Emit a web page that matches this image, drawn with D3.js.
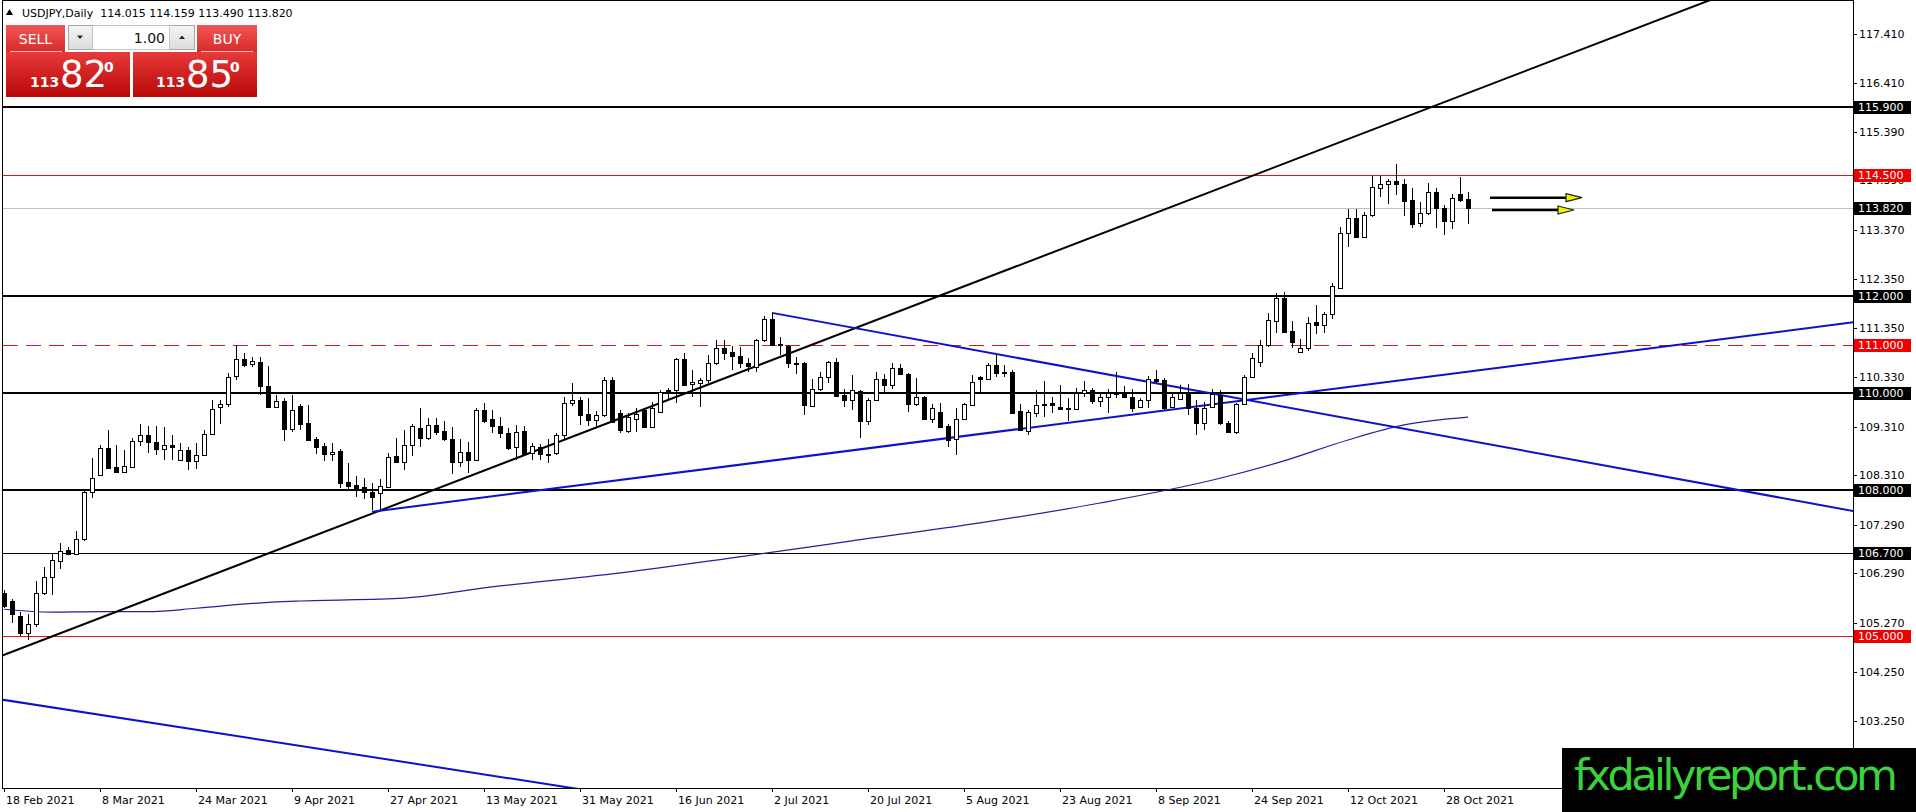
<!DOCTYPE html>
<html>
<head>
<meta charset="utf-8">
<script src="https://cdn.jsdelivr.net/npm/d3@7"></script>
<style>
  body { margin: 0; background: #fff; }
  svg { display: block; }
  text { font-family: "DejaVu Sans", sans-serif; }
</style>
</head>
<body>
<div id="chart"></div>
<script>
// ---- datos ----
const symbolTitle = "USDJPY,Daily";
const lastBar = [114.015, 114.159, 113.490, 113.820]; // O H L C

// velas diarias desde 18 Feb 2021: [open, high, low, close]
const ohlc = [
  [105.88,105.95,105.57,105.62],[105.71,105.76,105.26,105.45],[105.42,105.50,104.99,105.07],[105.07,105.45,104.92,105.25],
  [105.24,106.13,105.19,105.88],[105.88,106.43,105.85,106.21],[106.21,106.69,105.85,106.57],[106.55,106.91,106.38,106.75],
  [106.77,106.83,106.66,106.69],[106.69,107.17,106.68,106.99],[106.99,107.98,106.96,107.96],[107.96,108.66,107.84,108.25],
  [108.32,108.94,108.30,108.87],[108.88,109.25,108.44,108.47],[108.49,108.94,108.35,108.37],[108.37,108.84,108.35,108.50],
  [108.49,109.08,108.47,109.02],[109.01,109.36,108.92,109.14],[109.14,109.32,108.78,108.99],[109.00,109.33,108.73,108.85],
  [108.85,109.30,108.63,108.94],[108.94,109.14,108.62,108.89],[108.63,108.97,108.62,108.84],[108.84,108.89,108.42,108.61],
  [108.61,108.97,108.44,108.73],[108.73,109.25,108.71,109.16],[109.16,109.87,109.14,109.67],[109.72,109.87,109.37,109.78],
  [109.78,110.43,109.73,110.33],[110.35,111.00,110.27,110.70],[110.70,110.84,110.55,110.59],[110.60,110.76,110.54,110.66],
  [110.64,110.75,109.96,110.16],[110.16,110.57,109.72,109.73],[109.73,109.97,109.72,109.85],[109.85,109.90,109.01,109.26],
  [109.26,109.97,109.21,109.66],[109.74,109.78,109.25,109.37],[109.39,109.76,109.03,109.04],[109.06,109.10,108.75,108.90],
  [108.92,108.97,108.61,108.75],[108.75,108.97,108.61,108.80],[108.81,108.85,108.04,108.16],[108.17,108.56,107.98,108.10],
  [108.11,108.30,107.87,108.06],[108.08,108.25,107.82,107.96],[107.97,108.15,107.60,107.87],[107.94,108.23,107.60,108.09],
  [108.08,108.78,108.07,108.68],[108.70,109.08,108.58,108.58],[108.58,109.25,108.42,108.94],[108.93,109.36,108.71,109.33],
  [109.28,109.69,108.90,109.08],[109.08,109.49,109.04,109.35],[109.35,109.49,109.14,109.21],[109.23,109.44,109.02,109.06],
  [109.07,109.30,108.34,108.59],[108.59,109.06,108.49,108.79],[108.79,108.99,108.35,108.62],[108.62,109.69,108.60,109.66],
  [109.65,109.81,109.40,109.44],[109.47,109.66,109.18,109.33],[109.32,109.51,109.08,109.19],[109.19,109.28,108.84,108.87],
  [108.89,109.35,108.62,109.21],[109.23,109.33,108.70,108.75],[108.77,108.97,108.62,108.92],[108.90,108.96,108.63,108.75],
  [108.72,109.07,108.56,108.76],[108.77,109.19,108.73,109.14],[109.14,109.93,109.04,109.80],[109.80,110.22,109.74,109.87],
  [109.87,109.93,109.35,109.56],[109.57,109.90,109.33,109.46],[109.46,109.64,109.33,109.55],[109.55,110.33,109.52,110.27],
  [110.27,110.33,109.38,109.42],[109.59,109.66,109.19,109.24],[109.23,109.59,109.19,109.52],[109.48,109.69,109.21,109.57],
  [109.66,109.69,109.28,109.31],[109.31,109.83,109.28,109.69],[109.62,110.08,109.60,110.03],[110.07,110.12,109.86,110.01],
  [110.06,110.74,109.80,110.70],[110.70,110.84,110.15,110.17],[110.19,110.49,109.93,110.24],[110.21,110.31,109.71,110.28],
  [110.28,110.79,110.21,110.62],[110.62,111.10,110.59,110.93],[110.93,111.11,110.69,110.84],[110.86,110.98,110.48,110.77],
  [110.77,110.96,110.52,110.62],[110.63,110.72,110.45,110.56],[110.55,111.13,110.45,111.11],[111.10,111.60,111.07,111.53],
  [111.53,111.66,110.98,111.00],[110.99,111.17,110.79,111.02],[110.98,111.00,110.52,110.62],[110.62,110.76,110.40,110.63],
  [110.62,110.65,109.55,109.76],[109.74,110.29,109.73,110.10],[110.10,110.45,110.04,110.34],[110.34,110.67,110.22,110.65],
  [110.65,110.72,109.93,109.95],[109.97,110.10,109.73,109.86],[109.86,110.38,109.66,110.08],[110.04,110.07,109.09,109.44],
  [109.44,109.90,109.35,109.86],[109.86,110.45,109.85,110.29],[110.29,110.40,110.03,110.17],[110.17,110.63,110.10,110.53],
  [110.53,110.61,110.38,110.40],[110.40,110.43,109.62,109.79],[109.79,110.31,109.74,109.92],[109.92,109.95,109.45,109.48],
  [109.48,109.79,109.38,109.69],[109.62,109.81,109.28,109.31],[109.33,109.37,108.90,109.04],[109.05,109.69,108.73,109.48],
  [109.48,109.81,109.46,109.78],[109.77,110.38,109.76,110.23],[110.34,110.36,110.01,110.30],[110.30,110.63,110.29,110.58],
  [110.58,110.80,110.33,110.43],[110.45,110.58,110.33,110.44],[110.45,110.48,109.57,109.59],[109.64,109.79,109.23,109.24],
  [109.23,109.66,109.14,109.61],[109.60,110.08,109.51,109.77],[109.77,110.26,109.51,109.78],[109.80,109.92,109.59,109.77],
  [109.71,110.17,109.67,109.68],[109.69,109.90,109.44,109.68],[109.67,110.12,109.66,110.01],[110.01,110.26,109.92,110.08],
  [110.08,110.12,109.79,109.85],[109.85,110.00,109.73,109.92],[109.92,110.10,109.60,110.00],[110.00,110.45,109.90,110.01],
  [109.99,110.15,109.92,109.93],[109.93,110.10,109.62,109.69],[109.71,109.90,109.69,109.86],[109.86,110.36,109.69,110.29],
  [110.29,110.48,110.21,110.25],[110.27,110.31,109.66,109.69],[109.71,110.01,109.69,109.92],[109.88,110.17,109.86,110.00],
  [110.00,110.19,109.55,109.69],[109.69,109.86,109.14,109.38],[109.38,109.83,109.24,109.69],[109.73,110.10,109.69,109.99],
  [109.97,110.06,109.35,109.40],[109.40,109.44,109.19,109.21],[109.21,109.81,109.16,109.78],[109.78,110.38,109.76,110.33],
  [110.33,110.83,110.31,110.74],[110.65,111.10,110.54,111.00],[111.00,111.65,110.96,111.51],[111.50,112.06,111.24,111.96],
  [111.96,112.10,111.25,111.27],[111.29,111.50,110.93,111.07],[110.86,111.13,110.83,110.93],[110.93,111.58,110.88,111.46],
  [111.48,111.82,111.22,111.42],[111.42,111.68,111.25,111.64],[111.63,112.28,111.53,112.22],[112.18,113.44,112.17,113.30],
  [113.30,113.80,113.01,113.61],[113.61,113.80,113.22,113.23],[113.23,113.75,113.21,113.68],[113.68,114.48,113.64,114.25],
  [114.23,114.48,114.04,114.31],[114.31,114.43,113.90,114.37],[114.38,114.73,114.10,114.31],[114.32,114.43,113.66,113.97],
  [113.99,114.23,113.42,113.49],[113.52,113.94,113.44,113.71],[113.71,114.33,113.68,114.15],[114.15,114.23,113.40,113.82],
  [113.82,113.88,113.27,113.56],[113.56,114.12,113.39,114.02],[114.11,114.47,113.95,113.99],lastBar
];

// etiquetas del eje de tiempo: [indice de vela, texto]
const dateTicks = [
  [0, "18 Feb 2021"], [12, "8 Mar 2021"], [24, "24 Mar 2021"], [36, "9 Apr 2021"],
  [48, "27 Apr 2021"], [60, "13 May 2021"], [72, "31 May 2021"], [84, "16 Jun 2021"],
  [96, "2 Jul 2021"], [108, "20 Jul 2021"], [120, "5 Aug 2021"], [132, "23 Aug 2021"],
  [144, "8 Sep 2021"], [156, "24 Sep 2021"], [168, "12 Oct 2021"], [180, "28 Oct 2021"]
];
const priceTicks = [117.41, 116.41, 115.39, 114.39, 113.37, 112.35, 111.35, 110.33,
                    109.31, 108.31, 107.29, 106.29, 105.27, 104.25, 103.25];

// niveles horizontales
const blackLevels = [115.9, 112.0, 110.0, 108.0];
const thinBlackLevels = [106.7];
const redLevels = [114.5, 105.0];
const dashedLevels = [111.0];
const bidPrice = 113.82;

// media movil (puntos leidos cada cierto numero de velas)
const maPoints = [
  [0,105.55],[6,105.49],[12,105.50],[18,105.50],[24,105.57],[31,105.67],[37,105.72],
  [50,105.78],[61,106.01],[76,106.28],[91,106.61],[106,106.96],[122,107.33],[137,107.74],
  [152,108.25],[160,108.61],[168,109.04],[175,109.35],[183,109.51]
];

// lineas de tendencia: dos anclas [indice, precio]
const trendBlack = [[0, 104.61], [100, 110.94]];
const triangleTop = [[96, 111.66], [183, 109.03]];
const triangleBottom = [[46, 107.56], [183, 110.45]];
const channelLow = [[0, 103.68], [70, 101.89]];

// flechas amarillas: [inicio, punta] en [indice, precio]
const arrows = [
  [[185.75, 114.035], [197.25, 114.035]],
  [[186.0, 113.781], [196.25, 113.781]]
];

const sellQuote = ["113", "82", "0"];
const buyQuote = ["113", "85", "0"];
const lotSize = "1.00";

// ---- tamanos ----
const SVG_W = 1916, SVG_H = 812;
const PLOT = { left: 2.5, top: 0.5, right: 1853, bottom: 788 };
const TAG_H = 13;

const svg = d3.select("#chart").append("svg")
  .attr("width", SVG_W).attr("height", SVG_H);

const x = d3.scaleLinear().domain([0, 231]).range([4, 4 + 8 * 231]);
const y = d3.scaleLinear().domain([103.25, 117.41]).range([720.8, 34]);
const fmt = d3.format(".3f");

const defs = svg.append("defs");
defs.append("clipPath").attr("id", "plotClip").append("rect")
  .attr("x", PLOT.left).attr("y", PLOT.top)
  .attr("width", PLOT.right - PLOT.left).attr("height", PLOT.bottom - PLOT.top);

function grad(id, c0, c1) {
  const g = defs.append("linearGradient").attr("id", id)
    .attr("x1", 0).attr("y1", 0).attr("x2", 0).attr("y2", 1);
  g.append("stop").attr("offset", "0%").attr("stop-color", c0);
  g.append("stop").attr("offset", "100%").attr("stop-color", c1);
}
grad("btnRed", "#f25656", "#d92a2a");
grad("boxRed", "#e83a3a", "#b80808");
grad("spinGray", "#f4f4f4", "#dcdcdc");

const plot = svg.append("g").attr("clip-path", "url(#plotClip)");

// niveles
function hLevel(v, color, width, dash) {
  const yy = Math.round(y(v)) + (width % 2 ? 0.5 : 0);
  plot.append("line")
    .attr("x1", PLOT.left).attr("x2", PLOT.right)
    .attr("y1", yy).attr("y2", yy)
    .attr("stroke", color).attr("stroke-width", width)
    .attr("stroke-dasharray", dash || null)
    .attr("shape-rendering", "crispEdges");
}
hLevel(bidPrice, "#c0c0c0", 1);
redLevels.forEach(v => hLevel(v, "#d81818", 1));
dashedLevels.forEach(v => hLevel(v, "#d81818", 1, "15,8"));
blackLevels.forEach(v => hLevel(v, "#000", 2));
thinBlackLevels.forEach(v => hLevel(v, "#000", 1));

// media movil
plot.append("path")
  .datum(maPoints)
  .attr("fill", "none")
  .attr("stroke", "#22229c")
  .attr("stroke-width", 1.2)
  .attr("d", d3.line().x(d => x(d[0])).y(d => y(d[1])).curve(d3.curveMonotoneX));

// lineas de tendencia
function trend(pts, color, from, to) {
  const [a, b] = pts;
  const slope = (b[1] - a[1]) / (b[0] - a[0]);
  const p = i => a[1] + slope * (i - a[0]);
  plot.append("line")
    .attr("x1", x(from)).attr("y1", y(p(from)))
    .attr("x2", x(to)).attr("y2", y(p(to)))
    .attr("stroke", color).attr("stroke-width", 2);
}
trend(channelLow, "#1010cc", -5, 120);
trend(trendBlack, "#000", -5, 260);
trend(triangleTop, "#1010cc", triangleTop[0][0], 260);
trend(triangleBottom, "#1010cc", triangleBottom[0][0], 260);

// velas
const candles = plot.append("g").attr("shape-rendering", "crispEdges");
candles.selectAll("line.wick")
  .data(ohlc)
  .join("line")
  .attr("class", "wick")
  .attr("x1", (d, i) => Math.round(x(i)) + 0.5)
  .attr("x2", (d, i) => Math.round(x(i)) + 0.5)
  .attr("y1", d => y(d[1]))
  .attr("y2", d => y(d[2]))
  .attr("stroke", "#000");
candles.selectAll("rect.body")
  .data(ohlc)
  .join("rect")
  .attr("class", "body")
  .attr("x", (d, i) => Math.round(x(i)) - 1.5)
  .attr("width", 4)
  .attr("y", d => Math.round(y(Math.max(d[0], d[3]))) + 0.5)
  .attr("height", d => Math.max(1, Math.round(y(Math.min(d[0], d[3]))) - Math.round(y(Math.max(d[0], d[3])))))
  .attr("fill", d => d[3] < d[0] ? "#000" : "#fff")
  .attr("stroke", "#000");

// flechas
arrows.forEach(([s, e]) => {
  const x0 = x(s[0]), x1 = x(e[0]), yy = y(s[1]);
  plot.append("line")
    .attr("x1", x0).attr("x2", x1 - 15).attr("y1", yy).attr("y2", yy)
    .attr("stroke", "#000").attr("stroke-width", 2.5);
  plot.append("path")
    .attr("d", `M${x1 - 16},${yy - 4}L${x1},${yy}L${x1 - 16},${yy + 4}Z`)
    .attr("fill", "#f2f200").attr("stroke", "#222").attr("stroke-width", 1.2);
});

// marco
svg.append("rect")
  .attr("x", PLOT.left).attr("y", PLOT.top)
  .attr("width", PLOT.right - PLOT.left).attr("height", PLOT.bottom - PLOT.top)
  .attr("fill", "none").attr("stroke", "#000").attr("shape-rendering", "crispEdges");

// eje de precios
const tagLevels = blackLevels.concat(thinBlackLevels, redLevels, dashedLevels, [bidPrice]);
const yAxis = svg.append("g").attr("shape-rendering", "crispEdges");
priceTicks.forEach((v, k) => {
  const yy = Math.round(y(v)) + 0.5;
  yAxis.append("line").attr("x1", PLOT.right).attr("x2", PLOT.right + 4)
    .attr("y1", yy).attr("y2", yy).attr("stroke", "#000");
  const label = yAxis.append("text").attr("x", 1859).attr("y", yy).attr("dy", "0.36em")
    .attr("font-size", 11).attr("fill", "#000").text(fmt(v));
  // etiqueta tapada por una caja de nivel: solo se ve la parte que asoma
  const hidden = tagLevels.find(t => Math.abs(Math.round(y(t)) - yy) < TAG_H);
  if (hidden !== undefined) {
    const ty = Math.round(y(hidden));
    const below = yy > ty;
    defs.append("clipPath").attr("id", "tickClip" + k).append("rect")
      .attr("x", 1855).attr("width", 60)
      .attr("y", below ? ty + 7 : yy - 8)
      .attr("height", below ? yy + 8 - (ty + 7) : (ty - 6) - (yy - 8));
    label.attr("clip-path", `url(#tickClip${k})`);
  }
});

function levelTag(v, bg) {
  const yy = Math.round(y(v));
  yAxis.append("rect").attr("x", 1854).attr("y", yy - 6).attr("width", 57).attr("height", TAG_H)
    .attr("fill", bg);
  yAxis.append("text").attr("x", 1858).attr("y", yy + 0.5).attr("dy", "0.36em")
    .attr("font-size", 11).attr("fill", "#fff").text(fmt(v));
}
blackLevels.concat(thinBlackLevels).forEach(v => levelTag(v, "#000"));
redLevels.concat(dashedLevels).forEach(v => levelTag(v, "#f00000"));
levelTag(bidPrice, "#000");

// eje de tiempo
const xAxis = svg.append("g");
dateTicks.forEach(([i, label]) => {
  const xx = Math.round(x(i)) + 0.5;
  xAxis.append("line").attr("x1", xx).attr("x2", xx)
    .attr("y1", PLOT.bottom).attr("y2", PLOT.bottom + 4)
    .attr("stroke", "#000").attr("shape-rendering", "crispEdges");
  xAxis.append("text").attr("x", xx + 1.5).attr("y", 804)
    .attr("font-size", 11).attr("fill", "#000").text(label);
});

// cabecera
svg.append("path").attr("d", "M6,15L9.5,9L13,15Z").attr("fill", "#000");
svg.append("text").attr("x", 22).attr("y", 17).attr("font-size", 11)
  .style("white-space", "pre")
  .text(`${symbolTitle}  ${lastBar.map(fmt).join(" ")}`);

// panel de trading en un clic
const panel = svg.append("g");
panel.append("rect").attr("x", 6).attr("y", 25).attr("width", 59).attr("height", 27).attr("fill", "url(#btnRed)");
panel.append("rect").attr("x", 197).attr("y", 25).attr("width", 60).attr("height", 27).attr("fill", "url(#btnRed)");
panel.append("rect").attr("x", 6).attr("y", 52).attr("width", 124).attr("height", 45).attr("fill", "url(#boxRed)");
panel.append("rect").attr("x", 133).attr("y", 52).attr("width", 124).attr("height", 45).attr("fill", "url(#boxRed)");
panel.append("line").attr("x1", 10).attr("x2", 62).attr("y1", 51.5).attr("y2", 51.5).attr("stroke", "#f7c0c0");
panel.append("line").attr("x1", 201).attr("x2", 253).attr("y1", 51.5).attr("y2", 51.5).attr("stroke", "#f7c0c0");

panel.append("rect").attr("x", 68.5).attr("y", 25.5).attr("width", 126).attr("height", 24)
  .attr("fill", "url(#spinGray)").attr("stroke", "#a8a8a8");
panel.append("rect").attr("x", 92.5).attr("y", 25.5).attr("width", 77).attr("height", 24)
  .attr("fill", "#fff").attr("stroke", "#c4c4c4");
panel.append("path").attr("d", "M77,35.5L83,35.5L80,39Z").attr("fill", "#222");
panel.append("path").attr("d", "M179,39L185,39L182,35.5Z").attr("fill", "#222");
panel.append("text").attr("x", 165).attr("y", 43).attr("text-anchor", "end")
  .attr("font-family", "Liberation Sans, sans-serif").attr("font-size", 14).attr("fill", "#111").text(lotSize);

panel.append("text").attr("x", 35.5).attr("y", 44).attr("text-anchor", "middle")
  .attr("font-family", "Liberation Sans, sans-serif").attr("font-size", 14).attr("fill", "#fff").text("SELL");
panel.append("text").attr("x", 227).attr("y", 44).attr("text-anchor", "middle")
  .attr("font-family", "Liberation Sans, sans-serif").attr("font-size", 14).attr("fill", "#fff").text("BUY");

function quote(q, x0) {
  panel.append("text").attr("x", x0).attr("y", 87)
    .attr("font-family", "Liberation Sans, sans-serif").attr("font-weight", "bold")
    .attr("font-size", 14).attr("fill", "#fff").text(q[0]);
  panel.append("text").attr("x", x0 + 30).attr("y", 87)
    .attr("font-family", "Liberation Sans, sans-serif")
    .attr("font-size", 37).attr("fill", "#fff").text(q[1]);
  panel.append("text").attr("x", x0 + 74).attr("y", 72)
    .attr("font-family", "Liberation Sans, sans-serif").attr("font-weight", "bold")
    .attr("font-size", 14).attr("fill", "#fff").text(q[2]);
}
quote(sellQuote, 30);
quote(buyQuote, 156);

// marca de agua
svg.append("rect").attr("x", 1562).attr("y", 748).attr("width", 354).attr("height", 64).attr("fill", "#000");
svg.append("text").attr("x", 1574).attr("y", 790)
  .attr("font-family", "Liberation Sans, Arial, sans-serif").attr("font-size", 43)
  .attr("textLength", 324).attr("fill", "#3bd23b").text("fxdailyreport.com");
</script>
</body>
</html>
